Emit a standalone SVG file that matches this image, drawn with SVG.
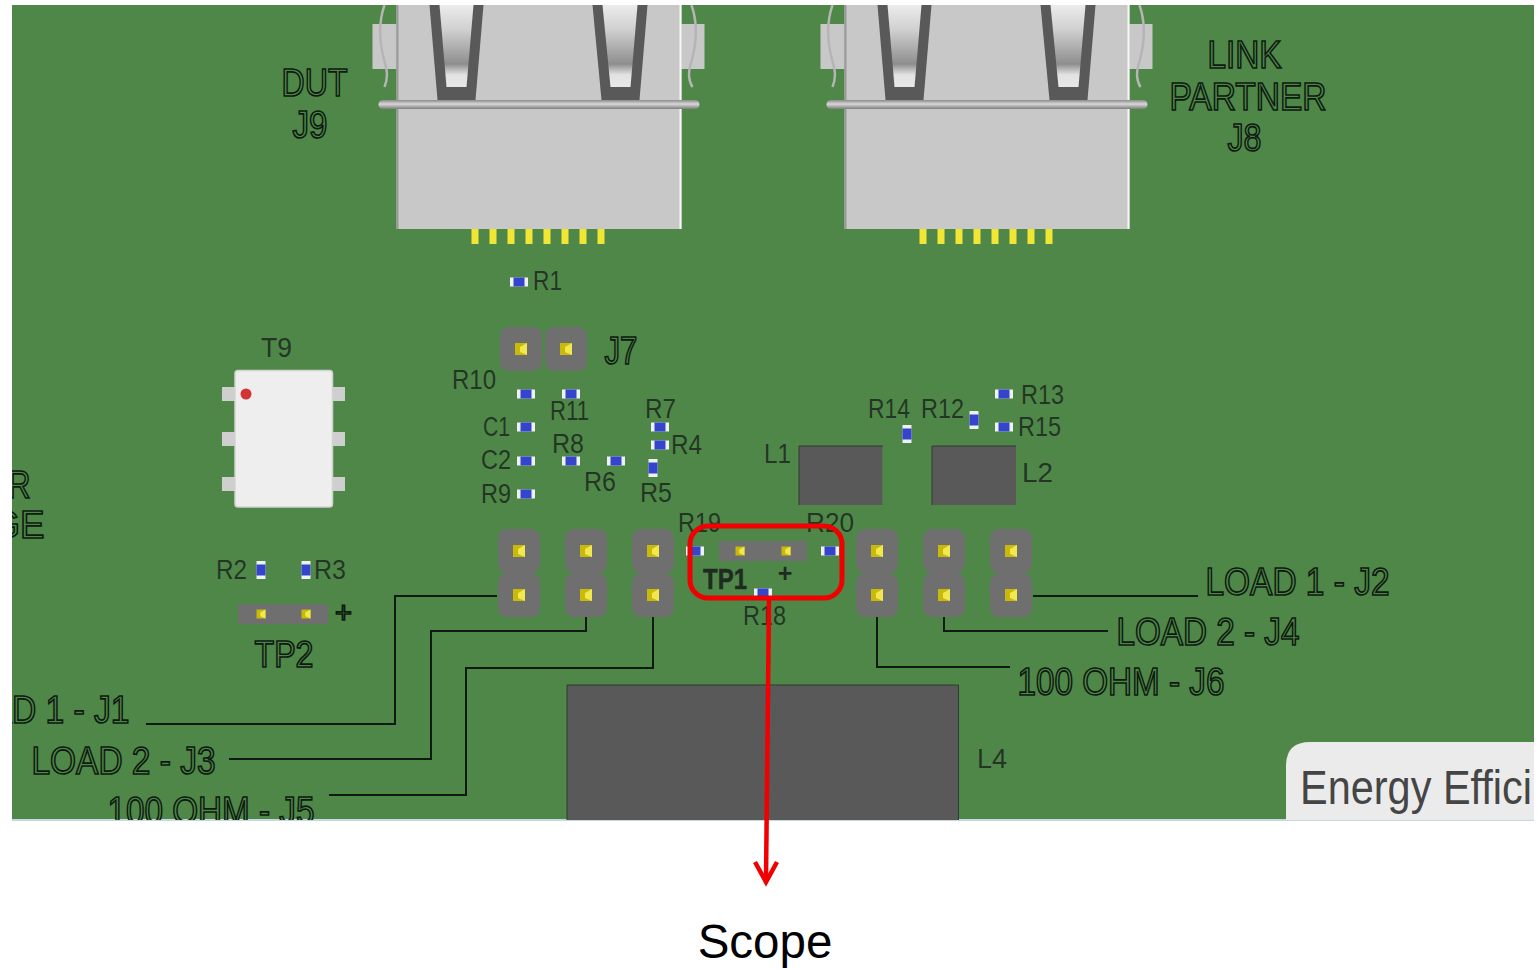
<svg xmlns="http://www.w3.org/2000/svg" xmlns:xlink="http://www.w3.org/1999/xlink" width="1537" height="969" viewBox="0 0 1537 969">
<style>
text{font-family:"Liberation Sans",Arial,sans-serif}
.o{font-size:39px;fill:#4f8749;stroke:#0e1a10;stroke-width:1.7px;transform:translate(-.5px,-1px)}
.s{font-size:27px;fill:#1d2b1f;fill-opacity:.88;transform:translate(-1px,-1px)}
.w{fill:none;stroke:#0f1a10;stroke-width:2}
.pad{fill:#6f6f70}
.dark{fill:#595959}
</style>
<defs>
<clipPath id="board"><rect x="12" y="5" width="1522" height="815"/></clipPath>
<linearGradient id="slot" x1="0" y1="0" x2="0" y2="1">
<stop offset="0" stop-color="#ececec"/><stop offset=".3" stop-color="#d0d0d0"/><stop offset=".72" stop-color="#8e8e8e"/><stop offset=".85" stop-color="#e2e2e2"/><stop offset="1" stop-color="#e8e8e8"/>
</linearGradient>
<linearGradient id="bar" x1="0" y1="0" x2="0" y2="1">
<stop offset="0" stop-color="#8b8b8b"/><stop offset=".45" stop-color="#d8d8d8"/><stop offset="1" stop-color="#7d7d7d"/>
</linearGradient>
<g id="rj45">
<rect x="373" y="24" width="24" height="45" fill="#c8c8c8"/>
<rect x="681" y="24" width="24" height="45" fill="#c8c8c8"/>
<path d="M385 5C378 25 380 45 386 65C389 75 387 82 385 87" fill="none" stroke="#b5b5b5" stroke-width="2.5"/>
<path d="M692 5C699 25 697 45 691 65C688 75 690 82 693 87" fill="none" stroke="#b5b5b5" stroke-width="2.5"/>
<rect x="397" y="5" width="285" height="224" fill="#c8c8c8"/>
<rect x="397" y="5" width="2" height="224" fill="#9a9a9a"/>
<rect x="680" y="5" width="2" height="224" fill="#f6f6f6"/>
<path class="dark" d="M430 5H484L476 100H438Z"/>
<path fill="url(#slot)" d="M440 5H474L467 87H447Z"/>
<path class="dark" d="M593 5H648L640 100H602Z"/>
<path fill="url(#slot)" d="M603 5H638L631 87H611Z"/>
<rect x="379" y="100" width="321" height="9" rx="4.5" fill="url(#bar)"/>
<g fill="#f1e633">
<rect x="472" y="229" width="7" height="15"/><rect x="490" y="229" width="7" height="15"/><rect x="508" y="229" width="7" height="15"/><rect x="526" y="229" width="7" height="15"/><rect x="544" y="229" width="7" height="15"/><rect x="562" y="229" width="7" height="15"/><rect x="580" y="229" width="7" height="15"/><rect x="598" y="229" width="7" height="15"/>
</g>
</g>
<g id="pin"><rect x="-6" y="-6" width="12" height="12" fill="#c9b90a"/><path d="M6-6V6L-1 3V-2Z" fill="#f1e84e"/></g>
<g id="hp"><rect class="pad" x="-21" y="-22" width="42" height="44" rx="9"/><use href="#pin"/></g>
<g id="rh"><rect x="-9" y="-4.500" width="18" height="9" fill="#eef2f2"/><rect x="-5.500" y="-4.500" width="11" height="9" fill="#3444cc"/></g>
<g id="rv"><rect x="-4.500" y="-9" width="9" height="18" fill="#eef2f2"/><rect x="-4.500" y="-5.500" width="9" height="11" fill="#3444cc"/></g>
</defs>

<rect width="1537" height="969" fill="#fff"/>
<rect id="pcb" x="12" y="5" width="1522" height="815" fill="#4f8749"/>
<rect x="12" y="819" width="1522" height="2" fill="#c3d8e0"/>

<g clip-path="url(#board)">
<g id="J9"><use href="#rj45" x="-.5"/></g>
<g id="J8"><use href="#rj45" x="447.500"/></g>

<g id="T9">
<g fill="#cfcfcf"><rect x="222" y="387" width="14" height="14"/><rect x="222" y="432" width="14" height="14"/><rect x="222" y="477" width="14" height="14"/><rect x="332" y="387" width="13" height="14"/><rect x="332" y="432" width="13" height="14"/><rect x="332" y="477" width="13" height="14"/></g>
<rect x="235" y="370.500" width="97.500" height="136.500" rx="3" fill="#eeeeee" stroke="#d2d2d2" stroke-width="1.500"/>
<circle cx="246" cy="394" r="5.500" fill="#d23434"/>
<text class="s" x="262" y="358" textLength="31" lengthAdjust="spacingAndGlyphs">T9</text>
</g>

<g id="L1"><rect class="dark" x="799" y="446" width="83.500" height="59"/><path d="M799 505V446H883" fill="none" stroke="#2f3a30" stroke-width="1"/><text class="s" x="765" y="464" textLength="27" lengthAdjust="spacingAndGlyphs">L1</text></g>
<g id="L2"><rect class="dark" x="932" y="446" width="84" height="59"/><path d="M932 505V446H1016" fill="none" stroke="#2f3a30" stroke-width="1"/><text class="s" x="1023" y="483" textLength="31" lengthAdjust="spacingAndGlyphs">L2</text></g>
<g id="L4"><rect class="dark" x="567" y="685" width="391.500" height="135"/><path d="M567 820V685H958.500V820" fill="none" stroke="#2f3a30" stroke-width="1"/><text class="s" x="978" y="769" textLength="30" lengthAdjust="spacingAndGlyphs">L4</text></g>

<g id="J7-header"><use href="#hp" x="521" y="349"/><use href="#hp" x="566" y="349"/><text class="o" x="605" y="365" textLength="33" lengthAdjust="spacingAndGlyphs">J7</text></g>
<g id="J1"><use href="#hp" x="519" y="551"/><use href="#hp" x="519" y="595"/></g>
<g id="J3"><use href="#hp" x="586" y="551"/><use href="#hp" x="586" y="595"/></g>
<g id="J5"><use href="#hp" x="653" y="551"/><use href="#hp" x="653" y="595"/></g>
<g id="J6"><use href="#hp" x="877" y="551"/><use href="#hp" x="877" y="595"/></g>
<g id="J4"><use href="#hp" x="944" y="551"/><use href="#hp" x="944" y="595"/></g>
<g id="J2"><use href="#hp" x="1011" y="551"/><use href="#hp" x="1011" y="595"/></g>

<g id="TP1"><rect class="pad" x="719" y="541" width="88" height="20"/><use href="#pin" transform="translate(740 551) scale(.75)"/><use href="#pin" transform="translate(786 551) scale(.75)"/>
<text x="703" y="589" font-size="30" font-weight="bold" fill="#1f2b20" stroke="#1f2b20" stroke-width=".5" textLength="44" lengthAdjust="spacingAndGlyphs">TP1</text>
<text x="785" y="582" text-anchor="middle" font-size="25" font-weight="bold" fill="#1f2b20">+</text></g>
<g id="TP2"><rect class="pad" x="238" y="604" width="90" height="20"/><use href="#pin" transform="translate(261 614) scale(.75)"/><use href="#pin" transform="translate(306 614) scale(.75)"/>
<text class="o" x="344" y="624" text-anchor="middle" style="font-size:29px">+</text>
<text class="o" x="255" y="668" textLength="59" lengthAdjust="spacingAndGlyphs" style="font-size:37px">TP2</text></g>

<g id="R1"><use href="#rh" x="519" y="282"/><text class="s" x="534" y="291" textLength="29" lengthAdjust="spacingAndGlyphs">R1</text></g>
<g id="R10"><use href="#rh" x="526" y="394"/><text class="s" x="453" y="390" textLength="44" lengthAdjust="spacingAndGlyphs">R10</text></g>
<g id="R11"><use href="#rh" x="571" y="394"/><text class="s" x="551" y="421" textLength="39" lengthAdjust="spacingAndGlyphs">R11</text></g>
<g id="C1"><use href="#rh" x="526" y="427"/><text class="s" x="484" y="437" textLength="27" lengthAdjust="spacingAndGlyphs">C1</text></g>
<g id="C2"><use href="#rh" x="526" y="461"/><text class="s" x="482" y="470" textLength="30" lengthAdjust="spacingAndGlyphs">C2</text></g>
<g id="R8"><use href="#rh" x="571" y="461"/><text class="s" x="553" y="454" textLength="32" lengthAdjust="spacingAndGlyphs">R8</text></g>
<g id="R6"><use href="#rh" x="616" y="461"/><text class="s" x="585" y="492" textLength="32" lengthAdjust="spacingAndGlyphs">R6</text></g>
<g id="R9"><use href="#rh" x="526" y="494"/><text class="s" x="482" y="504" textLength="30" lengthAdjust="spacingAndGlyphs">R9</text></g>
<g id="R7"><use href="#rh" x="660" y="427"/><text class="s" x="646" y="419" textLength="31" lengthAdjust="spacingAndGlyphs">R7</text></g>
<g id="R4"><use href="#rh" x="660" y="445"/><text class="s" x="672" y="455" textLength="31" lengthAdjust="spacingAndGlyphs">R4</text></g>
<g id="R5"><use href="#rv" x="653" y="468"/><text class="s" x="641" y="503" textLength="32" lengthAdjust="spacingAndGlyphs">R5</text></g>
<g id="R19"><use href="#rh" x="695" y="551"/><text class="s" x="679" y="533" textLength="43" lengthAdjust="spacingAndGlyphs">R19</text></g>
<g id="R20"><use href="#rh" x="830" y="551"/><text class="s" x="807" y="533" textLength="48" lengthAdjust="spacingAndGlyphs">R20</text></g>
<g id="R18"><use href="#rh" x="763" y="593"/><text class="s" x="744" y="626" textLength="43" lengthAdjust="spacingAndGlyphs">R18</text></g>
<g id="R2"><use href="#rv" x="261" y="570"/><text class="s" x="217" y="580" textLength="31" lengthAdjust="spacingAndGlyphs">R2</text></g>
<g id="R3"><use href="#rv" x="306" y="570"/><text class="s" x="315" y="580" textLength="32" lengthAdjust="spacingAndGlyphs">R3</text></g>
<g id="R14"><use href="#rv" x="907" y="434"/><text class="s" x="869" y="419" textLength="42" lengthAdjust="spacingAndGlyphs">R14</text></g>
<g id="R12"><use href="#rv" x="974" y="420"/><text class="s" x="922" y="419" textLength="43" lengthAdjust="spacingAndGlyphs">R12</text></g>
<g id="R13"><use href="#rh" x="1004" y="394"/><text class="s" x="1022" y="405" textLength="43" lengthAdjust="spacingAndGlyphs">R13</text></g>
<g id="R15"><use href="#rh" x="1004" y="427"/><text class="s" x="1019" y="437" textLength="43" lengthAdjust="spacingAndGlyphs">R15</text></g>

<g id="board-labels">
<text class="o" x="282" y="97" textLength="66" lengthAdjust="spacingAndGlyphs">DUT</text>
<text class="o" x="293" y="139" textLength="35" lengthAdjust="spacingAndGlyphs">J9</text>
<text class="o" x="1208" y="69" textLength="74" lengthAdjust="spacingAndGlyphs">LINK</text>
<text class="o" x="1170" y="111" textLength="157" lengthAdjust="spacingAndGlyphs">PARTNER</text>
<text class="o" x="1228" y="152" textLength="34" lengthAdjust="spacingAndGlyphs">J8</text>
<text class="o" x="8" y="499" textLength="23" lengthAdjust="spacingAndGlyphs">R</text>
<text class="o" x="-8" y="539" textLength="53" lengthAdjust="spacingAndGlyphs">GE</text>
<text class="o" x="1206" y="596" textLength="184" lengthAdjust="spacingAndGlyphs">LOAD 1 - J2</text>
<text class="o" x="1117" y="646" textLength="183" lengthAdjust="spacingAndGlyphs">LOAD 2 - J4</text>
<text class="o" x="1018" y="696" textLength="207" lengthAdjust="spacingAndGlyphs">100 OHM - J6</text>
<text class="o" x="-10" y="724" textLength="140" lengthAdjust="spacingAndGlyphs">AD 1 - J1</text>
<text class="o" x="32" y="775" textLength="184" lengthAdjust="spacingAndGlyphs">LOAD 2 - J3</text>
<text class="o" x="108" y="825" textLength="207" lengthAdjust="spacingAndGlyphs">100 OHM - J5</text>
</g>

<g id="energy-tab">
<path d="M1286 820V766Q1286 742 1310 742H1534V820Z" fill="#ebebeb"/>
<text x="1300" y="804" font-size="49" fill="#454545" textLength="232" lengthAdjust="spacingAndGlyphs">Energy Effici</text>
</g>
</g>

<g id="connectors">
<path class="w" d="M146 724H395V596H497"/>
<path class="w" d="M229 759H431V631H586V617"/>
<path class="w" d="M329 795H466V668H653V617"/>
<path class="w" d="M1033 596H1198"/>
<path class="w" d="M944 617V631H1108"/>
<path class="w" d="M877 617V667H1010"/>
</g>

<g id="scope-probe">
<rect x="690" y="526" width="152" height="72" rx="18" fill="none" stroke="#f00000" stroke-width="5"/>
<path d="M769 598L766 880" fill="none" stroke="#f00000" stroke-width="4.500"/>
<path d="M755 862L766 882L777 862" fill="none" stroke="#f00000" stroke-width="4.500"/>
<text x="765" y="958" text-anchor="middle" font-size="47.500" fill="#000">Scope</text>
</g>
</svg>
